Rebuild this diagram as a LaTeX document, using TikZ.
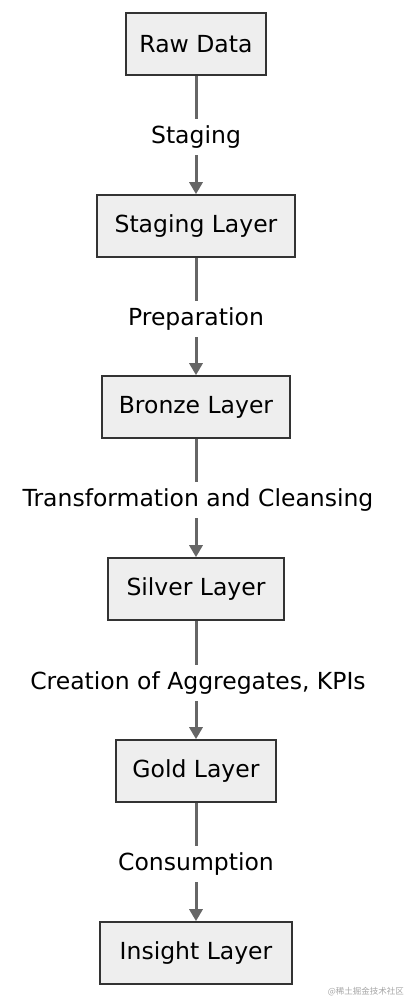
\documentclass[tikz,border=0pt]{standalone}
\usepackage{fontspec}
\setmainfont{DejaVu Sans}
\newfontfamily\cjk{Noto Sans CJK SC}
\usetikzlibrary{arrows.meta}
\definecolor{boxfill}{HTML}{EEEEEE}
\definecolor{boxline}{HTML}{333333}
\definecolor{arrowgray}{HTML}{666666}
\tikzset{
  layerbox/.style={draw=boxline, line width=1.6pt, fill=boxfill, minimum height=62pt, inner xsep=10pt, font=\fontsize{23.5}{26}\selectfont, text=black},
  flowlabel/.style={fill=white, inner sep=0pt, minimum height=36pt, font=\fontsize{23.5}{26}\selectfont, text=black},
  flowarrow/.style={draw=arrowgray, line width=3pt, -{Triangle[length=12pt,width=13pt]}}
}
\begin{document}
\begin{tikzpicture}[x=1pt,y=-1pt]
\fill[white] (0,0) rectangle (406,1002);
\useasboundingbox (0,0) rectangle (406,1002);
\node[layerbox, minimum width=140pt] (raw) at (196,44) {Raw Data};
\node[layerbox, minimum width=198pt] (stg) at (196,226) {Staging Layer};
\node[layerbox, minimum width=188pt] (brz) at (196,407) {Bronze Layer};
\node[layerbox, minimum width=176pt] (slv) at (196,589) {Silver Layer};
\node[layerbox, minimum width=160pt] (gld) at (196,771) {Gold Layer};
\node[layerbox, minimum width=192pt] (ins) at (196,953) {Insight Layer};
\draw[flowarrow] (raw) -- (stg);
\draw[flowarrow] (stg) -- (brz);
\draw[flowarrow] (brz) -- (slv);
\draw[flowarrow] (slv) -- (gld);
\draw[flowarrow] (gld) -- (ins);
\node[flowlabel] (l1) at (196,137) {Staging};
\node[flowlabel] (l2) at (196,319) {Preparation};
\node[flowlabel] (l3) at (198,500) {Transformation and Cleansing};
\node[flowlabel] (l4) at (198,683) {Creation of Aggregates, KPIs};
\node[flowlabel] (l5) at (196,864) {Consumption};
\node[anchor=east, text=gray!70, font=\cjk\fontsize{8.5}{9}\selectfont, inner sep=0pt] (wm) at (404,992) {@稀土掘金技术社区};
\end{tikzpicture}
\end{document}
